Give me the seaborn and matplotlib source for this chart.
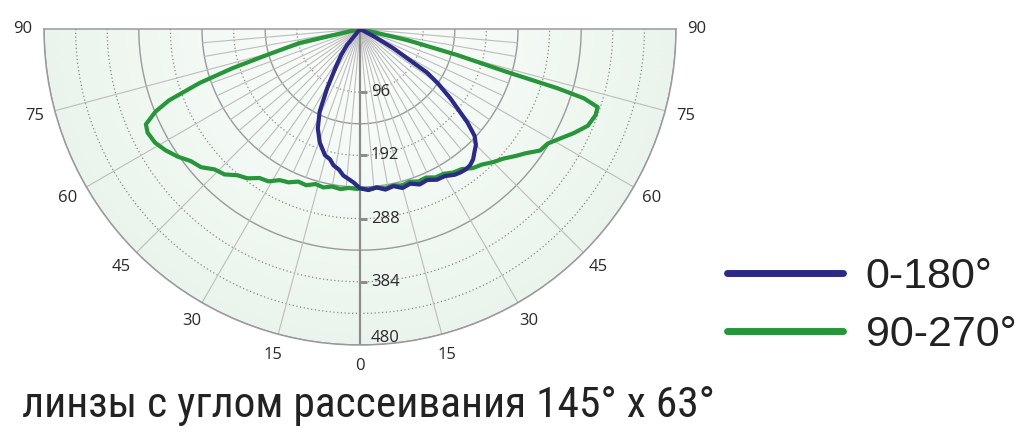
import numpy as np
import matplotlib
matplotlib.use("Agg")
import matplotlib.pyplot as plt
import seaborn as sns
from matplotlib.colors import LinearSegmentedColormap
from matplotlib import font_manager

sns.set_theme(style="white")
plt.rcParams['font.family'] = ['Open Sans', 'DejaVu Sans']

# ---------------- data (angle in degrees, intensity in cd) ----------------
# 0-180 plane: negative angles = left half, positive = right half
blue_theta = [-40, -39, -36, -33, -29, -26, -23, -19.5, -15.5, -13, -11, -8.5, -6.5, -2.5, 0,
              3, 6, 9, 12, 15, 18, 21, 24, 27, 30, 33, 35, 37, 39, 41, 43, 45, 47, 49, 52.5,
              55, 57, 60, 62, 65]
blue_r = [0, 31, 48, 65, 103, 140, 164, 183, 199, 203, 211, 216, 224, 233, 242,
          245, 242, 247, 244, 250, 247, 253, 251, 257, 258, 264, 266, 267, 266, 262, 255,
          249, 238, 216, 173, 145, 121, 58, 26, 0]

# 90-270 plane
green_theta = [-78, -77, -74.4, -72.9, -71.4, -69.5, -68, -66, -64, -61, -58, -55, -52,
               -49, -46, -43, -40, -37, -34, -31, -28, -25, -22, -19, -16, -13, -10, -7, -4, -1,
               0, 3, 6, 9, 12, 15, 18, 21, 24, 27, 30, 33, 36, 39, 42, 45, 48, 51, 53, 56,
               58.6, 62, 64, 67, 69.9, 71.8, 72.8, 73.3, 73.7, 75, 76.8, 78]
green_r = [0, 94, 147, 203, 257, 310, 335, 356, 359, 356, 348, 338, 326,
           320, 307, 302, 290, 284, 273, 270, 260, 257, 250, 251, 245, 247, 243, 245, 242, 243,
           242, 244, 242, 245, 243, 246, 244, 248, 247, 253, 254, 260, 263, 272, 277, 286, 294,
           306, 314, 330, 334, 350, 361, 376, 381, 380, 356, 313, 233, 153, 74, 0]

ring_values = [96, 144, 192, 240, 288, 336, 384, 432, 480]
ring_solid = [False, True, False, True, False, True, False, False, True]
tick_values = [96, 192, 288, 384, 480]
angle_labels = [0, 15, 30, 45, 60, 75, 90]
legend_labels = ["0-180°", "90-270°"]
caption = "линзы с углом рассеивания 145° х 63°"

BLUE = "#2c2a85"
GREEN = "#27963a"

# ---------------- figure / polar axes ----------------
W, H = 1024, 438
fig = plt.figure(figsize=(W / 100, H / 100), dpi=100)
cx, cy, R = 360, 29, 316
# square axes box: the half-disc wedge is centred vertically inside it
box = 2 * R
bottom_px = (H - cy - R) - R / 2
ax = fig.add_axes([(cx - R) / W, bottom_px / H, box / W, box / H], projection="polar")
ax.set_theta_zero_location("S")
ax.set_thetamin(-90)
ax.set_thetamax(90)
ax.set_rlim(0, 480)
ax.set_xticks([])
ax.set_yticks([])
ax.grid(False)
ax.set_facecolor("white")
for name, sp in ax.spines.items():
    sp.set_color("#9a9a9a")
    sp.set_linewidth(1.1)

# gradient background
tg = np.radians(np.linspace(-90, 90, 181))
rg = np.linspace(0, 480, 40)
T, RG = np.meshgrid(tg, rg)
cmap = LinearSegmentedColormap.from_list("bg", ["#fcfefc", "#eaf4ec"])
ax.pcolormesh(T, RG, RG, cmap=cmap, shading="gouraud", zorder=0)

# rings
for v, solid in zip(ring_values, ring_solid):
    if solid:
        ax.plot(tg, np.full_like(tg, v), color="#9a9a9a", lw=1.0, zorder=1)
    else:
        ax.plot(tg, np.full_like(tg, v), color="#8a8a8a", lw=0.9, ls=(0, (1, 2)), zorder=1)

# radial lines
for a in range(-85, 90, 5):
    if a == 0:
        continue
    rend = 480 if a % 15 == 0 else 240
    ax.plot([np.radians(a)] * 2, [0, rend], color="#bdbdbd", lw=0.8, zorder=1)

# vertical axis with ticks
ax.plot([0, 0], [0, 480], color="#8c8c8c", lw=1.6, zorder=2)
ax.plot([0] * len(tick_values), tick_values, ls="none", marker=[(0, 0), (1, 0)],
        ms=10, mew=2.0, mec="#8c8c8c", zorder=2)
for v in tick_values:
    dy = 7 if v == 480 else 0
    ax.annotate(str(v), xy=(0, v), xytext=(11, dy), textcoords="offset pixels",
                ha="left", va="center", fontsize=12, color="#2a2a2a", zorder=5)

# angle labels
for a in angle_labels:
    for s in ([1, -1] if a != 0 else [1]):
        ax.text(np.radians(s * a), 512, str(a), ha="center", va="center",
                fontsize=12, color="#2a2a2a")

# curves
th_b = np.radians(blue_theta)
th_g = np.radians(green_theta)
lb, = ax.plot(th_b, blue_r, color=BLUE, lw=3.0, zorder=4, solid_joinstyle="round",
              solid_capstyle="round", label=legend_labels[0])
lg, = ax.plot(th_g, green_r, color=GREEN, lw=3.0, zorder=3, solid_joinstyle="round",
              solid_capstyle="round", label=legend_labels[1])

# legend
leg = fig.legend(handles=[lb, lg], loc="center left", bbox_to_anchor=(727 / W, 1 - 306 / H),
                 frameon=False, borderpad=0, borderaxespad=0, handlelength=2.7,
                 handletextpad=0.52, labelspacing=0.42,
                 prop={"family": "Liberation Sans", "size": 31})
for ln in leg.get_lines():
    ln.set_linewidth(5.0)
    ln.set_solid_capstyle("round")
for t in leg.get_texts():
    t.set_color("#222222")

# caption
names = {f.name for f in font_manager.fontManager.ttflist}
cap_family = None
for cand in ["Liberation Sans Narrow", "Roboto Condensed", "Open Sans Condensed", "DejaVu Sans"]:
    if cand in names:
        cap_family = cand
        break
ctext = fig.text(22 / W, 1 - 417 / H, caption, ha="left", va="baseline", fontsize=32,
                 color="#222222", family=[cap_family, "DejaVu Sans"],
                 fontstretch="condensed")
fig.canvas.draw()
bb = ctext.get_window_extent()
target_w = 696
ctext.set_fontsize(32 * target_w / bb.width)

fig.savefig("out.png", dpi=100)
